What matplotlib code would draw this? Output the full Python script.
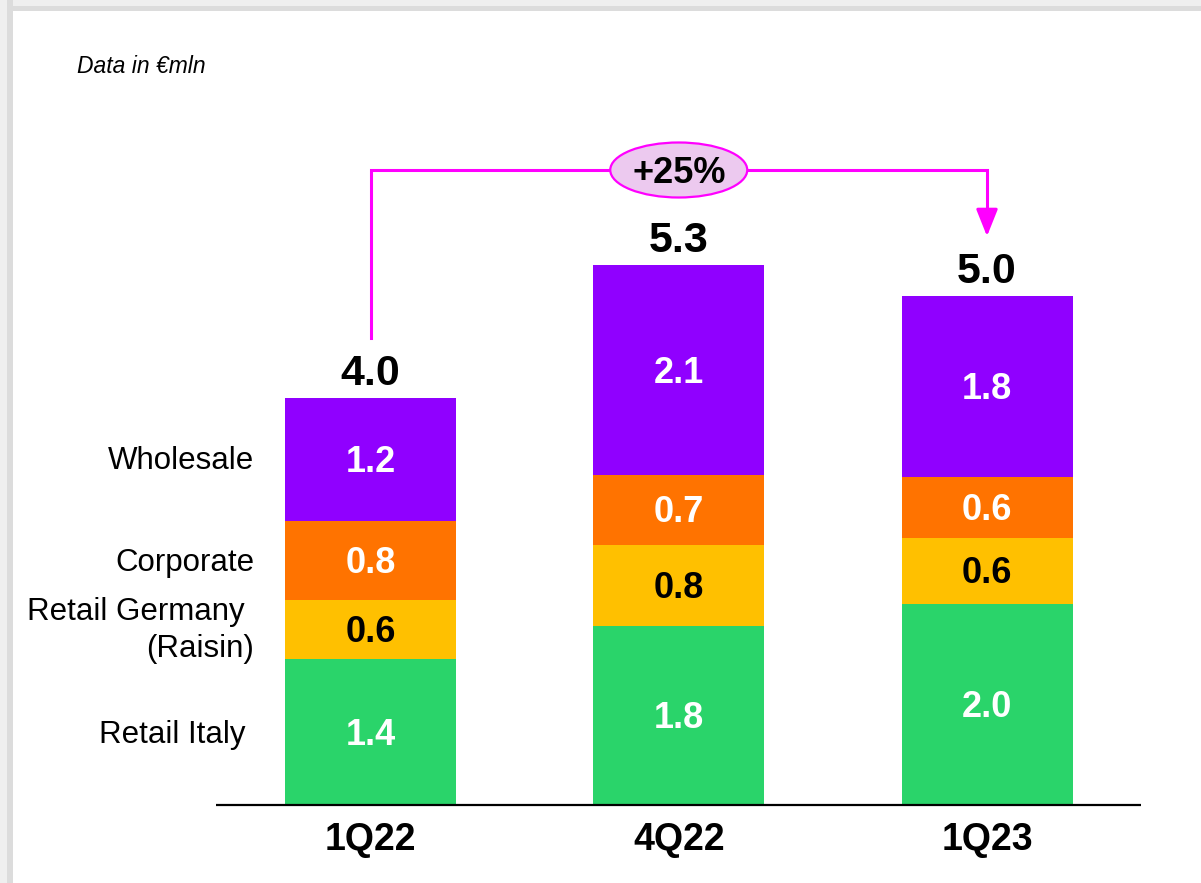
import matplotlib
matplotlib.use("Agg")
import matplotlib.pyplot as plt
from matplotlib.patches import Ellipse, Rectangle
import numpy as np

plt.rcParams['font.family'] = ['Liberation Sans', 'DejaVu Sans']

# Revenue by segment, €mln
quarters = ["1Q22", "4Q22", "1Q23"]
retail_italy = [1.43, 1.76, 1.98]
retail_germany = [0.58, 0.80, 0.64]
corporate = [0.78, 0.68, 0.60]
wholesale = [1.21, 2.07, 1.78]
growth_label = "+25%"

series = [retail_italy, retail_germany, corporate, wholesale]
colors = ["#2AD46A", "#FFC000", "#FF7300", "#9000FF"]
text_colors = ["white", "black", "white", "white"]

W, H = 1201, 883
fig = plt.figure(figsize=(W / 100, H / 100), dpi=100)
fig.patch.set_facecolor("white")

# light frame along the top and left edges
fig.add_artist(Rectangle((0, 1 - 11 / H), 1, 11 / H, transform=fig.transFigure,
                         facecolor="#dcdcdc", edgecolor="none", zorder=0))
fig.add_artist(Rectangle((0, 1 - 6 / H), 1, 6 / H, transform=fig.transFigure,
                         facecolor="#efefef", edgecolor="none", zorder=0))
fig.add_artist(Rectangle((0, 0), 12.5 / W, 1, transform=fig.transFigure,
                         facecolor="#dcdcdc", edgecolor="none", zorder=0))
fig.add_artist(Rectangle((0, 0), 7 / W, 1, transform=fig.transFigure,
                         facecolor="#efefef", edgecolor="none", zorder=0))

ax = fig.add_axes([0, 0, 1, 1])
ax.set_facecolor("none")
ax.axis("off")

px_x = 308.25   # pixels per category step
px_y = 101.75   # pixels per €mln
x0_px, base_px = 370.5, 805
ax.set_xlim(-x0_px / px_x, (W - x0_px) / px_x)
ax.set_ylim(-(H - base_px) / px_y, base_px / px_y)

nudge = 3 / px_y  # small downward shift for centred labels

x = np.arange(len(quarters))
bar_w = 171 / px_x
bottom = np.zeros(len(quarters))
for vals, col, tcol in zip(series, colors, text_colors):
    vals = np.array(vals)
    ax.bar(x, vals, bar_w, bottom=bottom, color=col, edgecolor="none", zorder=2)
    for xi, b, v in zip(x, bottom, vals):
        ax.text(xi, b + v / 2 - nudge, f"{v:.1f}", ha="center", va="center",
                fontsize=26, fontweight="bold", color=tcol, zorder=3)
    bottom = bottom + vals
totals = bottom

for xi, t in zip(x, totals):
    ax.annotate(f"{t:.1f}", (xi, t), xytext=(0, 9.5), textcoords="offset points",
                ha="center", va="baseline", fontsize=31, fontweight="bold",
                color="black", zorder=3)

# baseline
ax.plot([-0.5, 2.5], [0, 0], color="black", lw=1.6, zorder=4, solid_capstyle="butt")

for xi, q in zip(x, quarters):
    ax.text(xi, -35 / px_y, q, ha="center", va="center", fontsize=27,
            fontweight="bold", color="black")

# segment names beside the first bar
name_x = (254 - x0_px) / px_x
name_x2 = (245 - x0_px) / px_x
fs_names = 22.5
ax.text(name_x2, (base_px - 735) / px_y, "Retail Italy",
        ha="right", va="center", fontsize=fs_names)
ax.text(name_x2, (base_px - 612) / px_y, "Retail Germany",
        ha="right", va="center", fontsize=fs_names)
ax.text(name_x, (base_px - 649) / px_y, "(Raisin)",
        ha="right", va="center", fontsize=fs_names)
ax.text(name_x, (base_px - 563) / px_y, "Corporate",
        ha="right", va="center", fontsize=fs_names)
ax.text(name_x, (base_px - 461) / px_y, "Wholesale",
        ha="right", va="center", fontsize=fs_names)

ax.text((77 - x0_px) / px_x, (base_px - 66) / px_y, "Data in €mln",
        ha="left", va="center", fontsize=16.5, fontstyle="italic")

# growth connector from 1Q22 to 1Q23
mag = "#FF00FF"
gap = 60 / px_y
top_y = (base_px - 170) / px_y
tip_y = totals[2] + gap
ax.plot([x[0], x[0], x[2], x[2]],
        [totals[0] + gap, top_y, top_y, tip_y + 0.15],
        color=mag, lw=2.2, zorder=4, solid_joinstyle="miter")
ax.annotate("", xy=(x[2], tip_y), xytext=(x[2], tip_y + 0.25),
            arrowprops=dict(arrowstyle="-|>,head_width=0.3,head_length=0.75",
                            mutation_scale=22, color=mag, lw=2.2,
                            shrinkA=0, shrinkB=0), zorder=4)
ell = Ellipse((x[1], top_y), 137 / px_x, 55 / px_y, facecolor="#ECC9EF",
              edgecolor=mag, lw=1.6, zorder=5)
ax.add_patch(ell)
ax.text(x[1], top_y - nudge, growth_label, ha="center", va="center", fontsize=26,
        fontweight="bold", color="black", zorder=6)

fig.savefig("out.png", dpi=100)
